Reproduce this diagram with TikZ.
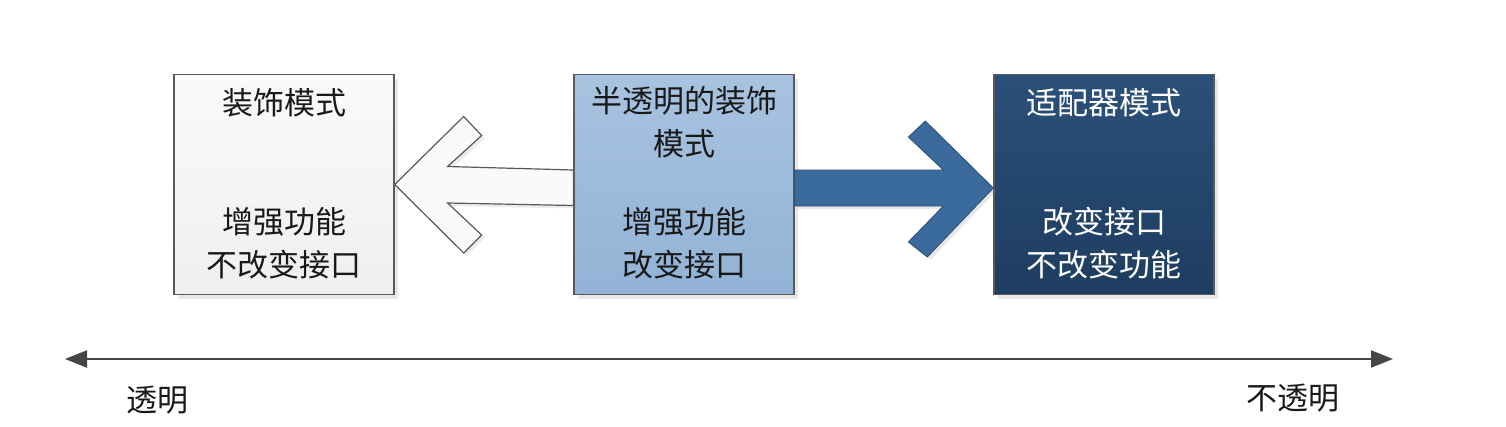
\documentclass[tikz,border=0pt]{standalone}
\usepackage{fontspec}
\newfontfamily\cjk{Noto Sans CJK SC}
\usetikzlibrary{arrows.meta, positioning, calc, shadows}

\definecolor{boxline}{HTML}{595959}
\definecolor{decotop}{HTML}{FAFAFA}
\definecolor{decobot}{HTML}{EFEFEF}
\definecolor{semitop}{HTML}{A8C3E0}
\definecolor{semibot}{HTML}{92B3D6}
\definecolor{adptop}{HTML}{2B5079}
\definecolor{adpbot}{HTML}{1E3D60}
\definecolor{arrowblue}{HTML}{3A6B9C}
\definecolor{axisgray}{HTML}{454545}

\tikzset{
  patbox/.style={draw=boxline, line width=1.3pt, minimum width=220pt, minimum height=220pt,
    inner sep=0pt, drop shadow={shadow xshift=4pt, shadow yshift=-4pt, opacity=0.18}},
  boxtext/.style={font=\cjk\fontsize{31}{43}\selectfont, align=center, inner sep=0pt, text=black!90},
  hollowarrow/.style={draw=boxline, line width=1.2pt, fill=decotop, line join=miter,
    drop shadow={shadow xshift=3pt, shadow yshift=-3pt, opacity=0.15}},
  solidarrow/.style={draw=arrowblue!75!black, line width=0.8pt, fill=arrowblue, line join=miter,
    drop shadow={shadow xshift=3pt, shadow yshift=-3pt, opacity=0.18}},
  axisline/.style={draw=axisgray, line width=2pt, {Triangle[length=22pt,width=17pt]}-{Triangle[length=22pt,width=17pt]}}
}

\begin{document}
\begin{tikzpicture}[x=1pt, y=-1pt]
  \useasboundingbox[fill=white] (0,0) rectangle (1506,426);

  % the three patterns
  \node[patbox, top color=decotop, bottom color=decobot] (deco) at (284,184.5) {};
  \node[patbox, top color=semitop, bottom color=semibot] (semi) at (684,184.5) {};
  \node[patbox, top color=adptop, bottom color=adpbot] (adp) at (1104,184.5) {};

  % block arrows between them
  \draw[hollowarrow] (deco.east) -- ++(69,-68) -- ++(18,19) -- ++(-34,31)
    -- ($(semi.west)+(0,-14.5)$) -- ($(semi.west)+(0,21)$)
    -- ($(deco.east)+(53,18.5)$) -- ++(34,32) -- ++(-18,18) -- cycle;
  \coordinate (adptip) at ($(adp.west)+(0,3.5)$);
  \draw[solidarrow] ($(semi.east)+(0,-14.5)$) -- ($(adptip)+(-50,-18)$) -- ($(adptip)+(-85,-51)$)
    -- ($(adptip)+(-68,-67)$) -- (adptip) -- ($(adptip)+(-66,69)$) -- ($(adptip)+(-85,54)$)
    -- ($(adptip)+(-50,18)$) -- ($(semi.east)+(0,21.5)$) -- cycle;

  % box texts
  \node[boxtext] (deconame) at ($(deco.north)+(0,29)$) {装饰模式};
  \node[boxtext] (decorole) at ($(deco.center)+(0,59)$) {增强功能\\不改变接口};
  \node[boxtext] (seminame) at ($(semi.north)+(0,48)$) {半透明的装饰\\模式};
  \node[boxtext] (semirole) at ($(semi.center)+(0,59)$) {增强功能\\改变接口};
  \node[boxtext, text=white] (adpname) at ($(adp.north)+(0,29)$) {适配器模式};
  \node[boxtext, text=white] (adprole) at ($(adp.center)+(0,59)$) {改变接口\\不改变功能};

  % transparency scale
  \coordinate (transL) at (65,359);
  \coordinate (transR) at (1393,359);
  \draw[axisline] (transL) -- (transR);
  \node[boxtext] (transp) at (157,400) {透明};
  \node[boxtext] (opaque) at (1293,398) {不透明};
\end{tikzpicture}
\end{document}
